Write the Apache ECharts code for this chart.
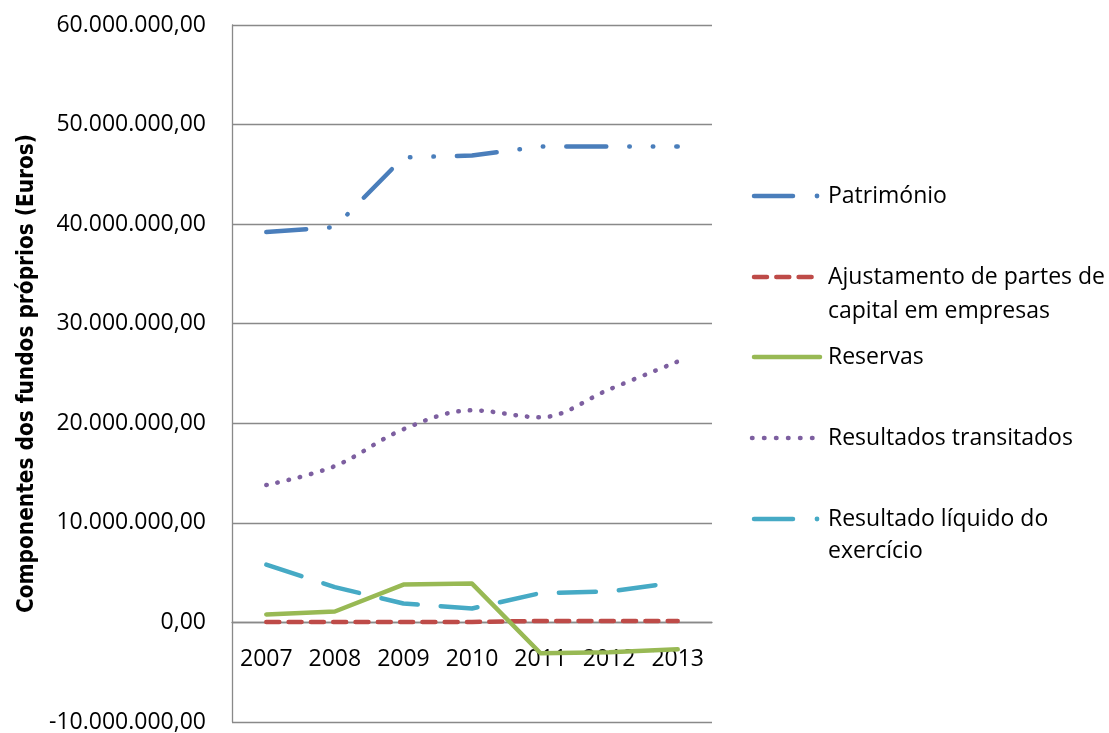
<!DOCTYPE html>
<html><head><meta charset="utf-8">
<script src="https://cdn.jsdelivr.net/npm/echarts@6/dist/echarts.min.js"></script>
<style>html,body{margin:0;padding:0;background:#fff}#c{width:1109px;height:733px}</style>
</head><body><div id="c"></div>
<script>
const categories = ['2007','2008','2009','2010','2011','2012','2013'];
const patrimonio  = [39200000, 39700000, 46700000, 46900000, 47800000, 47800000, 47800000];
const ajustamento = [50000, 50000, 50000, 50000, 150000, 150000, 150000];
const reservas    = [800000, 1100000, 3800000, 3900000, -3100000, -3000000, -2700000];
const transitados = [13800000, 15700000, 19400000, 21300000, 20600000, 23400000, 26200000];
const liquido     = [5800000, 3550000, 1900000, 1400000, 2950000, 3100000, 4050000];
const seriesNames = ['Património', 'Ajustamento de partes de capital em empresas', 'Reservas', 'Resultados transitados', 'Resultado líquido do exercício'];
const yMin = -10000000, yMax = 60000000, yStep = 10000000;
const yTitle = 'Componentes dos fundos próprios (Euros)';

function fmt(v) {
  const neg = v < 0;
  const s = Math.abs(v).toFixed(2).split('.');
  const intPart = s[0].replace(/\B(?=(\d{3})+(?!\d))/g, '.');
  return (neg ? '-' : '') + intPart + ',' + s[1];
}

const FONT = '"Open Sans", sans-serif';
const GRID = '#898989';
const C = { pat: '#4a7ebb', aju: '#be4b48', res: '#98b954', tra: '#7d5fa0', liq: '#46aac5' };
const W = 4.5;
const TOP = 25, BOTTOM = 11, H = 733 - TOP - BOTTOM;
const zeroOffset = -H * (0 - yMin) / (yMax - yMin);

const chart = echarts.init(document.getElementById('c'), null, { renderer: 'canvas' });

function mkLine(name, data, color, dash, extra) {
  return Object.assign({
    name, type: 'line', data, symbol: 'none', silent: true, z: 5,
    lineStyle: { color, width: W, type: dash, cap: 'round', join: 'round' }
  }, extra || {});
}

const legendTxt = (x, y, t) => ({ type: 'text', x, y, style: { text: t, font: '23px ' + FONT, fill: '#000', verticalAlign: 'middle', align: 'left' } });
const lg = (x1, x2, y, color, dash, w) => ({ type: 'line', shape: { x1, y1: y, x2, y2: y }, style: { stroke: color, lineWidth: w || W, lineDash: dash, lineCap: 'round' } });
const dot = (x, y, color) => ({ type: 'circle', shape: { cx: x, cy: y, r: 2.4 }, style: { fill: color } });

chart.setOption({
  animation: false,
  grid: { left: 232, right: 397, top: TOP, bottom: BOTTOM, containLabel: false, outerBoundsMode: 'none' },
  xAxis: {
    type: 'category', data: categories, boundaryGap: true,
    offset: zeroOffset, z: 0,
    axisLine: { show: true, onZero: false, lineStyle: { color: GRID, width: 1.3 } },
    axisTick: { show: false },
    axisLabel: { color: '#000', fontSize: 23, fontFamily: FONT, margin: 24, verticalAlign: 'top', padding: [2, 0, 0, 0] },
    splitLine: { show: false }
  },
  yAxis: {
    type: 'value', min: yMin, max: yMax, interval: yStep, z: 0,
    axisLine: { show: true, lineStyle: { color: GRID, width: 1.3 } },
    axisTick: { show: false },
    axisLabel: { color: '#000', fontSize: 23, fontFamily: FONT, margin: 26, formatter: fmt },
    splitLine: { show: true, lineStyle: { color: GRID, width: 1.3 } },
    name: yTitle, nameLocation: 'middle', nameGap: 194, nameRotate: 90,
    nameTextStyle: { color: '#000', fontSize: 22.4, fontWeight: 'bold', fontFamily: '"Liberation Sans Narrow", "DejaVu Sans Condensed", "Open Sans", sans-serif' }
  },
  series: [
    mkLine(seriesNames[0], patrimonio, C.pat, [40, 23, 0.5, 23, 0.5, 23]),
    mkLine(seriesNames[1], ajustamento, C.aju, [13, 9.3]),
    mkLine(seriesNames[2], reservas, C.res, 'solid'),
    mkLine(seriesNames[3], transitados, C.tra, [0.5, 11], { smooth: 0.35 }),
    mkLine(seriesNames[4], liquido, C.liq, [37, 23])
  ],
  graphic: [
    lg(754, 793, 196, C.pat, null), dot(817, 196, C.pat),
    legendTxt(828, 196, 'Património'),
    lg(754, 812, 277, C.aju, [13, 9.3]),
    legendTxt(828, 277, 'Ajustamento de partes de'),
    legendTxt(828, 311, 'capital em empresas'),
    lg(754, 820, 357, C.res, null),
    legendTxt(828, 357, 'Reservas'),
    lg(752, 813, 438, C.tra, [0.5, 11.5]),
    legendTxt(828, 438, 'Resultados transitados'),
    lg(754, 793, 519, C.liq, null), dot(817, 519, C.liq),
    legendTxt(828, 519, 'Resultado líquido do'),
    legendTxt(828, 551, 'exercício')
  ]
});
</script>
</body></html>
